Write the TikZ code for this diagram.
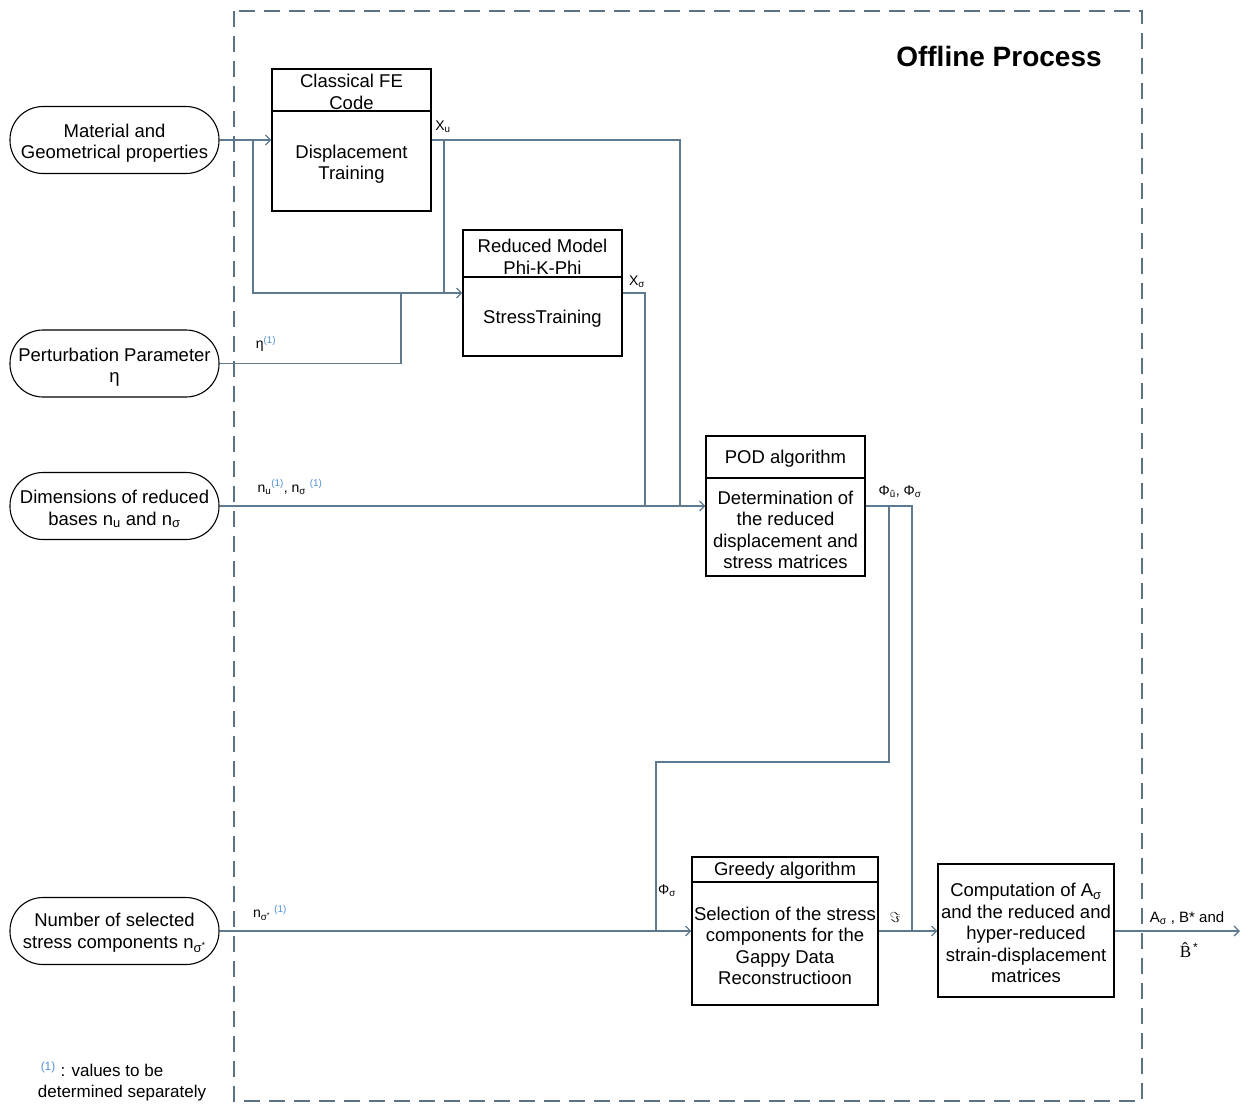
\documentclass[tikz,border=0pt]{standalone}
\usepackage{fontspec}
\setmainfont{Liberation Sans}
\newfontfamily\tms{Liberation Serif}
\usetikzlibrary{arrows.meta}
\definecolor{ln}{HTML}{5E7A90}
\definecolor{fr}{HTML}{5B7285}
\definecolor{sb}{HTML}{4F8FD6}
\newcommand{\sone}{\textcolor{sb}{\textsuperscript{(1)}}}
\newcommand{\fs}{\fontsize{18.5}{21.5}\selectfont}
\newcommand{\fl}{\fontsize{14}{16}\selectfont}
\begin{document}
\begin{tikzpicture}[x=1pt,y=-1pt,
 conn/.style={draw=ln, line width=1.3pt},
 arr/.style={conn,-{Straight Barb[length=5pt,width=10pt]}},
 box/.style={draw=black, line width=1.1pt, inner sep=0pt},
 pill/.style={draw=black, line width=1.1pt, rounded corners=33pt, minimum width=209pt, minimum height=67pt, inner sep=0pt},
 txt/.style={align=center, font=\fs, inner sep=0pt},
 lbl/.style={font=\fl, inner sep=0pt}]
\useasboundingbox (0,0) rectangle (1242,1104);
% frame
\draw[draw=fr, line width=2pt, dash pattern=on 16pt off 9pt] (234,11) rectangle (1142,1101);
\node[font=\fontsize{28}{32}\selectfont\bfseries] (title) at (999,56) {Offline Process};

% inputs
\node[pill] (mat) at (114.5,140) {};
\node[txt] (matt) at (114.5,143) {Material and\\Geometrical properties};
\node[pill] (pert) at (114.5,363.5) {};
\node[txt] (pertt) at (114.5,367) {Perturbation Parameter\\η};
\node[pill] (dim) at (114.5,506) {};
\node[txt] (dimt) at (114.5,509) {Dimensions of reduced\\bases n\textsubscript{u} and n\textsubscript{σ}};
\node[pill] (num) at (114.5,931) {};
\node[txt] (numt) at (114.5,933) {Number of selected\\stress components n\textsubscript{σ\textsuperscript{*}}};

% boxes
\node[box, minimum width=159pt, minimum height=142pt] (fe) at (351.5,140) {};
\draw[box] (fe.west |- 0,111) -- (fe.east |- 0,111);
\node[txt] (fet) at (351.5,92) {Classical FE\\Code};
\node[txt] (feb) at (351.5,164) {Displacement\\Training};

\node[box, minimum width=159pt, minimum height=126pt] (rm) at (542.5,293) {};
\draw[box] (rm.west |- 0,277) -- (rm.east |- 0,277);
\node[txt] (rmt) at (542.5,257) {Reduced Model\\Phi-K-Phi};
\node[txt] (rmb) at (542.5,319) {StressTraining};

\node[box, minimum width=159pt, minimum height=140pt] (pod) at (785.5,506) {};
\draw[box] (pod.west |- 0,478) -- (pod.east |- 0,478);
\node[txt] (podt) at (785.5,459) {POD algorithm};
\node[txt] (podb) at (785.5,530) {Determination of\\the reduced\\displacement and\\stress matrices};

\node[box, minimum width=186pt, minimum height=148pt] (gr) at (785,931) {};
\draw[box] (gr.west |- 0,882) -- (gr.east |- 0,882);
\node[txt] (grt) at (785,870.5) {Greedy algorithm};
\node[txt] (grb) at (785,946) {Selection of the stress\\components for the\\Gappy Data\\Reconstructioon};

\node[box, minimum width=176pt, minimum height=133pt] (cmp) at (1026,930.5) {};
\node[txt] (cmpb) at (1026,933) {Computation of A\textsubscript{σ}\\and the reduced and\\hyper-reduced\\strain-displacement\\matrices};

% junction coordinates
\coordinate (j1) at (253,140);
\coordinate (j1b) at (253,293);
\coordinate (j2) at (444,140);
\coordinate (j2b) at (444,293);
\coordinate (xu1) at (680,140);
\coordinate (xu2) at (680,506);
\coordinate (pe1) at (401,363.5);
\coordinate (pe2) at (401,293);
\coordinate (xs1) at (645,293);
\coordinate (xs2) at (645,506);
\coordinate (po1) at (912,506);
\coordinate (po2) at (912,931);
\coordinate (pf0) at (889,506);
\coordinate (pf1) at (889,762);
\coordinate (pf2) at (656,762);
\coordinate (pf3) at (656,931);
\coordinate (out) at (1240,931);

% connectors
\draw[arr] (mat.east) -- (fe.west);
\draw[arr] (j1) -- (j1b) -- (rm.west);
\draw[conn] (fe.east) -- (xu1) -- (xu2);
\draw[conn] (j2) -- (j2b);
\draw[conn] (pert.east) -- (pe1) -- (pe2);
\draw[conn] (rm.east) -- (xs1) -- (xs2);
\draw[arr] (dim.east) -- (pod.west);
\draw[conn] (pod.east) -- (po1) -- (po2);
\draw[conn] (pf0) -- (pf1) -- (pf2) -- (pf3);
\draw[arr] (num.east) -- (gr.west);
\draw[arr] (gr.east) -- (gr.east -| cmp.west);
\draw[arr] (cmp.east |- out) -- (out);

% labels
\node[lbl] (lxu) at (443,127) {X\textsubscript{u}};
\node[lbl] (leta) at (266,344) {η\sone};
\node[lbl] (ln) at (290,487) {n\textsubscript{u}\sone, n\textsubscript{σ} \sone};
\node[lbl] (lxs) at (637,282) {X\textsubscript{σ}};
\node[lbl] (lphi) at (900,492) {Φ\textsubscript{û}, Φ\textsubscript{σ}};
\node[lbl] (lns) at (270,913) {n\textsubscript{σ\textsuperscript{*}} \sone};
\node[lbl] (lphs) at (667,891) {Φ\textsubscript{σ}};
\node[lbl] (lim) at (895,917) {$\Im$};
\node[lbl, font=\fontsize{15}{17}\selectfont] (lout) at (1187,918) {A\textsubscript{σ} , B* and};
\node[lbl, font=\fontsize{17}{19}\selectfont] (lbh) at (1189,950) {{\tms\^{B}}\textsuperscript{\,*}};

% footnote
\node[font=\fontsize{17}{20}\selectfont, inner sep=0pt] (fn1) at (102,1069) {\sone\ : values to be};
\node[font=\fontsize{17}{20}\selectfont, inner sep=0pt] (fn2) at (122,1093) {determined separately};
\end{tikzpicture}
\end{document}
